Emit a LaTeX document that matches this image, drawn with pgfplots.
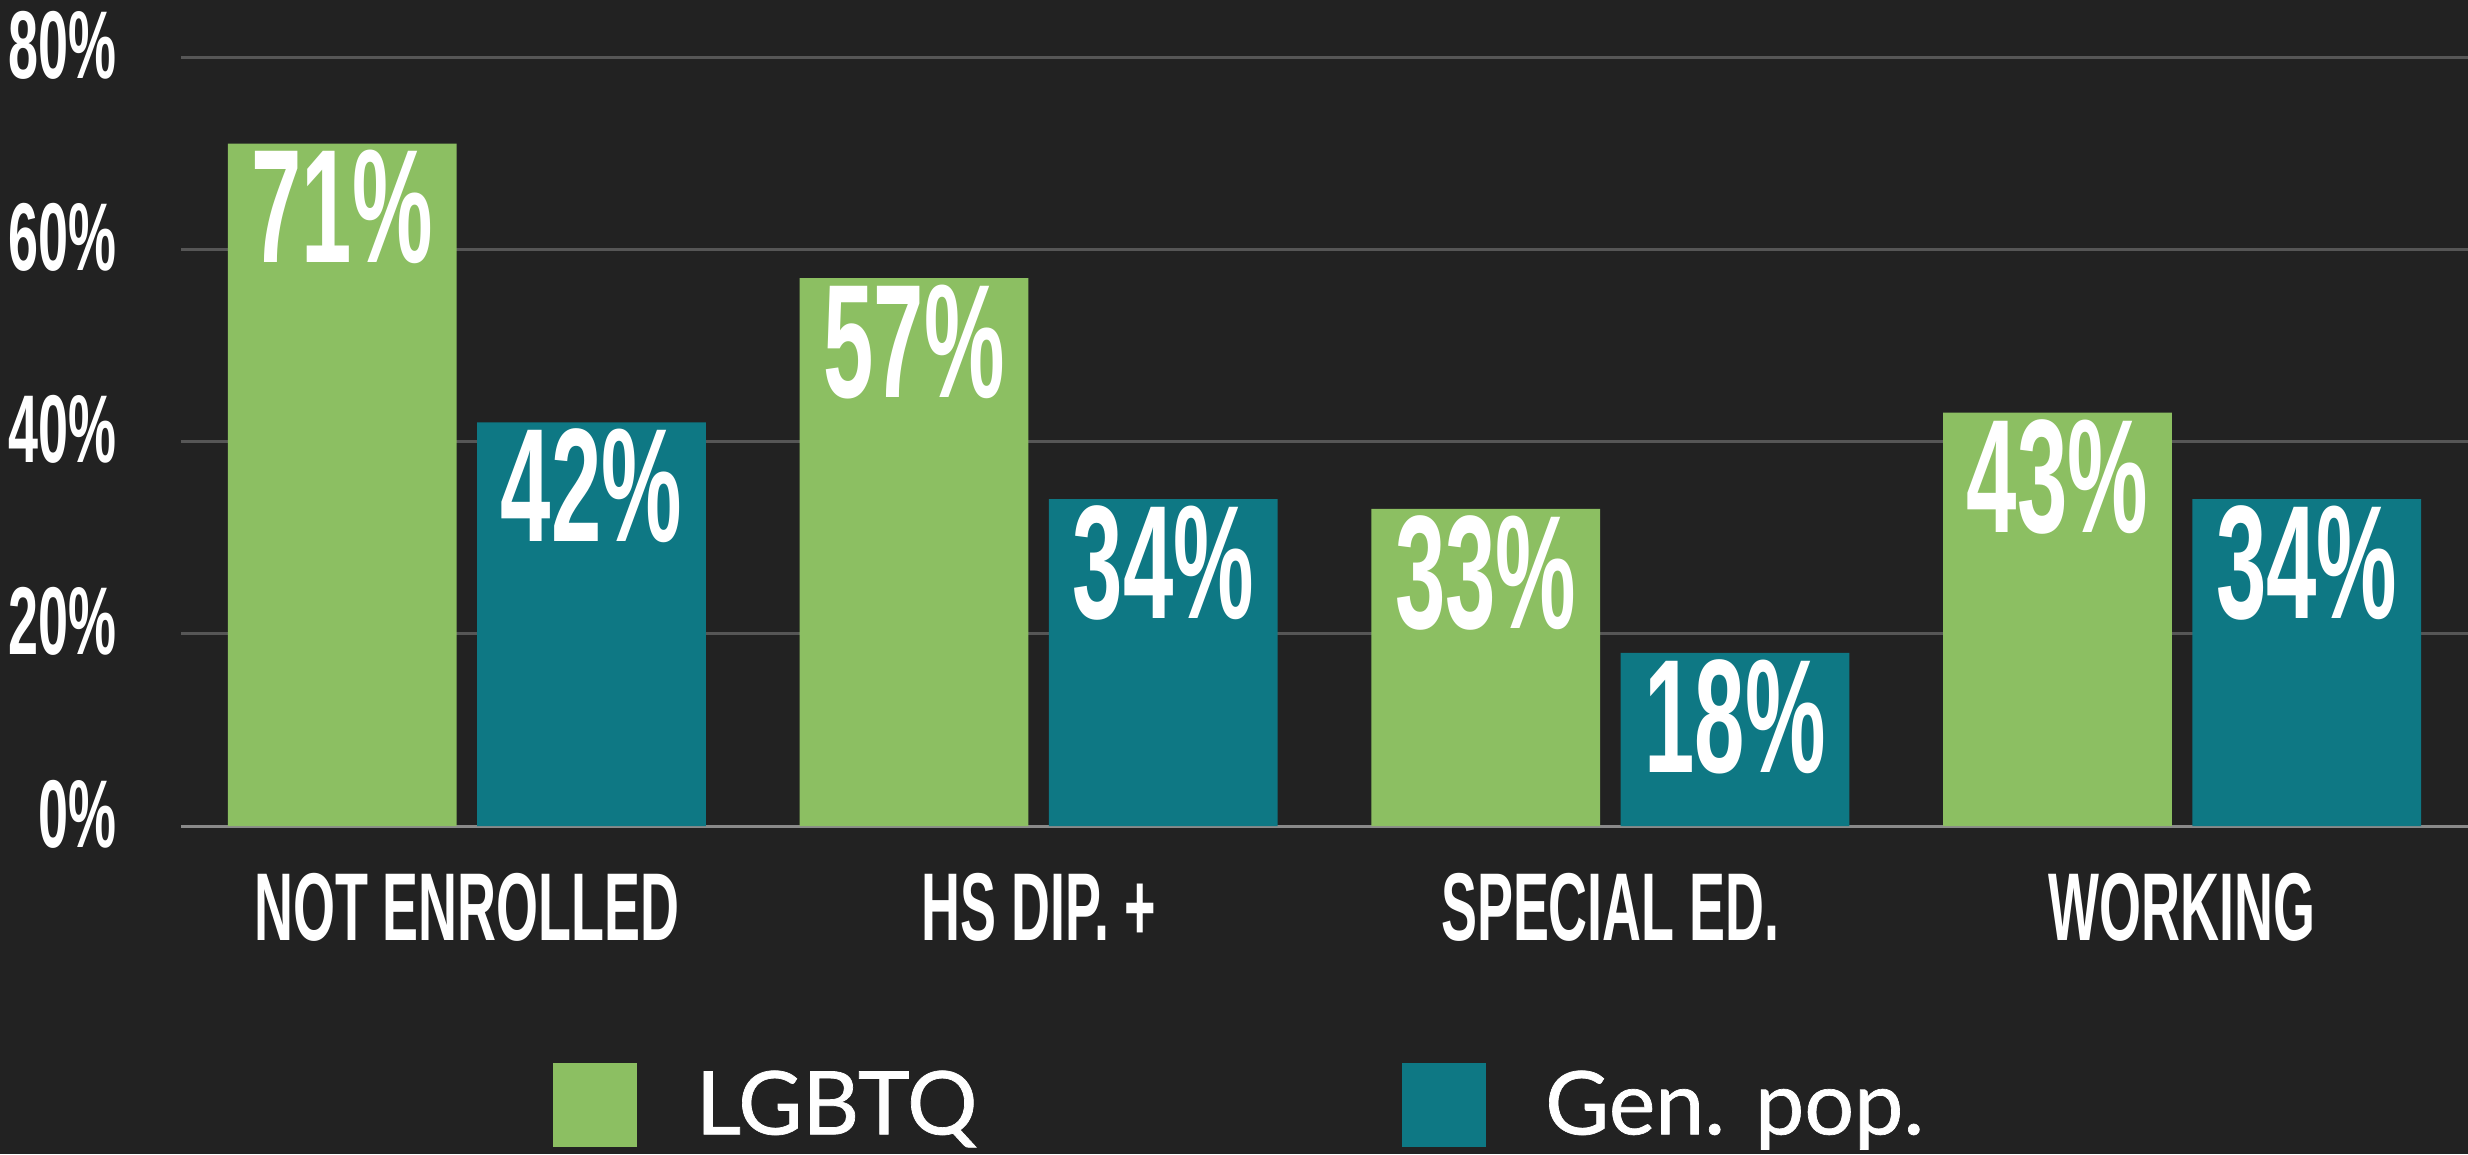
\documentclass[border=0pt]{standalone}
\usepackage{fontspec}
\usepackage{pgfplots}
\pgfplotsset{compat=1.18}
\newfontfamily\din{Liberation Sans}[FakeStretch=0.56]
\newfontfamily\lato{Lato}[FakeBold=0.8]
\definecolor{bg}{HTML}{222222}
\definecolor{lgbtq}{HTML}{8CBF62}
\definecolor{genpop}{HTML}{0E7884}
\definecolor{gridc}{HTML}{565656}
\definecolor{basec}{HTML}{8A8A8A}

\begin{document}
\begin{tikzpicture}
% page background, 246.8mm x 115.4mm
\fill[bg] (-18.1mm,-32.8mm) rectangle (228.7mm,82.6mm);
\useasboundingbox (-18.1mm,-32.8mm) rectangle (228.7mm,82.6mm);
\begin{axis}[
  at={(0,0)}, anchor=south west,
  width=228.7mm, height=76.9mm, scale only axis,
  xmin=-0.5, xmax=3.5, ymin=0, ymax=80,
  xtick={0,1,2,3},
  xticklabels={NOT ENROLLED, HS DIP. +, SPECIAL ED., WORKING},
  ytick={0,20,40,60,80},
  yticklabel={\pgfmathprintnumber{\tick}\%},
  /pgf/number format/assume math mode=true,
  major tick length=0,
  axis x line*=bottom, axis y line*=left,
  x axis line style={draw=basec, line width=0.3mm},
  y axis line style={draw=none},
  ymajorgrids, grid style={draw=gridc, line width=0.3mm},
  ticklabel style={text=white, inner sep=0pt,
    font=\din\bfseries\fontsize{27.4pt}{30pt}\selectfont},
  xticklabel style={anchor=base, yshift=-11.4mm},
  yticklabel style={anchor=base east, xshift=-6.4mm, yshift=-2.1mm},
  ybar, bar width=0.4,
  nodes near coords={\pgfmathprintnumber{\pgfplotspointmeta}\%},
  nodes near coords style={anchor=north, inner sep=0pt, yshift=-0.6mm,
    text=white, font=\din\bfseries\fontsize{46pt}{50pt}\selectfont},
  legend columns=2,
  legend image code/.code={\fill[#1] (0mm,-4.2mm) rectangle (8.4mm,4.2mm);},
  legend style={at={(0.4624,-0.363)}, anchor=center, draw=none, fill=none,
    inner sep=0pt, text=white,
    font=\lato\fontsize{25pt}{28pt}\selectfont,
    nodes={inner sep=0pt},
    /tikz/every odd column/.append style={column sep=5.9mm},
    /tikz/every even column/.append style={column sep=42.5mm}},
  legend cell align=left,
]
\addplot[fill=lgbtq, draw=none, bar shift=-0.218] coordinates {(0,71) (1,57) (2,33) (3,43)};
\addplot[fill=genpop, draw=none, bar shift=0.218] coordinates {(0,42) (1,34) (2,18) (3,34)};
\legend{LGBTQ, Gen. pop.}
\end{axis}
\end{tikzpicture}
\end{document}
